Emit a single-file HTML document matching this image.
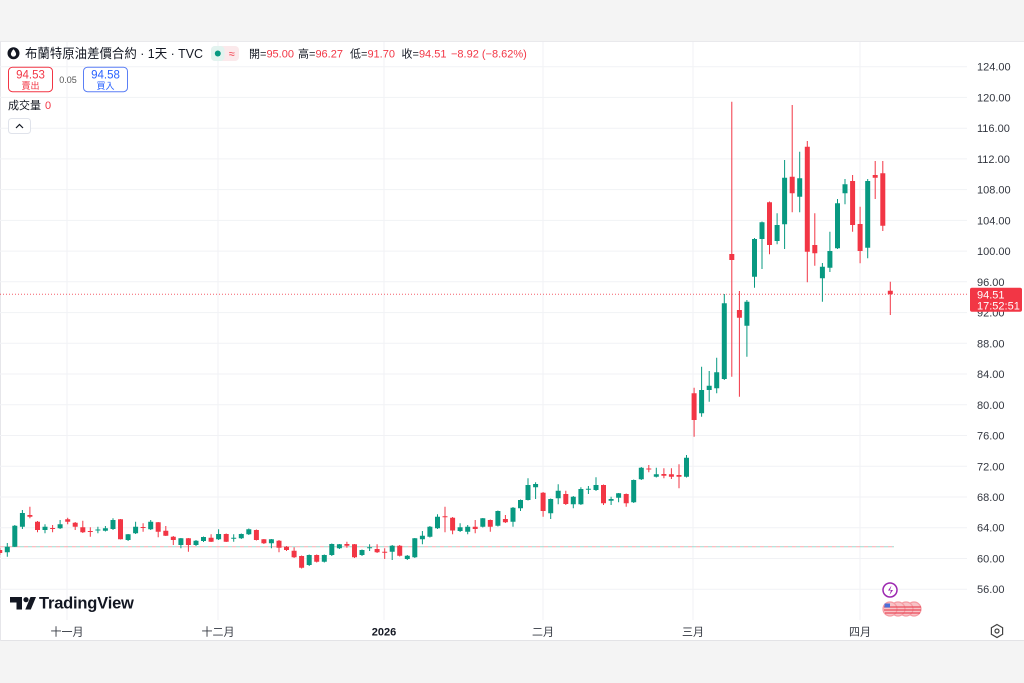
<!DOCTYPE html>
<html><head><meta charset="utf-8">
<style>
html,body{margin:0;padding:0;background:#f4f4f4;}
svg{display:block;}
text{font-family:"Liberation Sans","Noto Sans CJK TC",sans-serif;}
</style></head>
<body>
<svg width="1024" height="683" viewBox="0 0 1024 683" xmlns="http://www.w3.org/2000/svg">
<rect width="1024" height="683" fill="#f4f4f4"/>
<rect x="0" y="41" width="1024" height="600" fill="#ffffff"/>
<line x1="0" y1="41.5" x2="1024" y2="41.5" stroke="#e9e9ec"/>
<line x1="0" y1="640.5" x2="1024" y2="640.5" stroke="#e3e3e6"/>
<line x1="0.5" y1="41" x2="0.5" y2="641" stroke="#e6e6ea"/>

<!-- vertical grid -->
<g stroke="#f1f2f5" stroke-width="1">
<line x1="67" y1="42" x2="67" y2="620"/>
<line x1="218" y1="42" x2="218" y2="620"/>
<line x1="384" y1="42" x2="384" y2="620"/>
<line x1="543" y1="42" x2="543" y2="620"/>
<line x1="693" y1="42" x2="693" y2="620"/>
<line x1="860" y1="42" x2="860" y2="620"/>
</g>
<!-- horizontal grid -->
<g stroke="#f1f2f5" stroke-width="1">
<line x1="0" y1="66.7" x2="967" y2="66.7"/>
<line x1="0" y1="97.4" x2="967" y2="97.4"/>
<line x1="0" y1="128.2" x2="967" y2="128.2"/>
<line x1="0" y1="158.9" x2="967" y2="158.9"/>
<line x1="0" y1="189.6" x2="967" y2="189.6"/>
<line x1="0" y1="220.4" x2="967" y2="220.4"/>
<line x1="0" y1="251.1" x2="967" y2="251.1"/>
<line x1="0" y1="281.8" x2="967" y2="281.8"/>
<line x1="0" y1="312.6" x2="967" y2="312.6"/>
<line x1="0" y1="343.3" x2="967" y2="343.3"/>
<line x1="0" y1="374.0" x2="967" y2="374.0"/>
<line x1="0" y1="404.8" x2="967" y2="404.8"/>
<line x1="0" y1="435.5" x2="967" y2="435.5"/>
<line x1="0" y1="466.3" x2="967" y2="466.3"/>
<line x1="0" y1="497.0" x2="967" y2="497.0"/>
<line x1="0" y1="527.7" x2="967" y2="527.7"/>
<line x1="0" y1="558.5" x2="967" y2="558.5"/>
<line x1="0" y1="589.2" x2="967" y2="589.2"/>
</g>

<!-- reference dashed line -->
<line x1="0" y1="546.7" x2="894" y2="546.7" stroke="#f7a8ae" stroke-width="1" stroke-dasharray="4 4"/>
<line x1="4" y1="546.7" x2="894" y2="546.7" stroke="#9fd8cd" stroke-width="1" stroke-dasharray="4 4"/>

<!-- current price dotted line -->
<line x1="0" y1="294.3" x2="968" y2="294.3" stroke="#f23645" stroke-width="1" stroke-dasharray="1 2" opacity="0.8"/>

<!-- red wicks -->
<path fill="none" stroke="#f23645" stroke-width="1" d="M-0.25 548V555 M29.9 506.7V518.3 M37.5 521V532.3 M52.6 525V532.3 M67.7 517.7V524.3 M75.2 522V530 M82.8 520.7V533 M90.3 527.3V536.7 M120.5 519V539.5 M143.1 523.3V531.7 M158.2 522V537.3 M165.8 526V536 M173.3 536V545 M188.4 538V551.7 M211.1 534.3V542 M226.2 533.5V542 M256.4 529.5V540.5 M263.9 539V544 M279 540V552.3 M286.5 546V551 M294.1 547.3V558 M301.6 555.5V568.5 M316.7 554.5V562.5 M346.9 541.7V547.7 M354.5 544V558 M377.1 544.3V553 M384.7 548.3V559 M399.7 545V556.5 M445 506.7V532.3 M452.6 517V534.3 M475.2 520V533.3 M490.3 519.5V531.7 M505.4 515V523 M543.1 492V516.7 M565.8 490.7V505 M603.5 484.5V505 M626.2 493.5V506.7 M648.8 465V472.3 M663.9 468.3V478.3 M671.4 468.3V479 M679 464.3V488.3 M694.1 387.7V436.7 M731.8 101.7V376.7 M739.4 291V396.7 M769.5 201.5V254.3 M792.2 105V212.3 M807.3 141V282.3 M814.8 213.3V265.7 M852.6 175V231.7 M860.1 206.7V263.3 M875.2 161V199 M882.8 161V231 M890.3 281.7V315"/>
<!-- red bodies -->
<path fill="#f23645" d="M-2.75 550h5v3h-5z M27.4 515h5v1.7h-5z M35 521.7h5v8.3h-5z M50.1 528h5v1h-5z M65.2 519.3h5v2.4h-5z M72.7 522.7h5v4h-5z M80.3 527.3h5v5h-5z M87.8 531h5v1h-5z M118 519.3h5v20h-5z M140.6 527h5v1h-5z M155.7 522.3h5v9.4h-5z M163.3 530.7h5v5h-5z M170.8 536.7h5v3.3h-5z M185.9 538.3h5v6.7h-5z M208.6 537.7h5v4h-5z M223.7 534h5v7.7h-5z M253.9 530h5v10h-5z M261.4 539.3h5v4h-5z M276.5 540.7h5v7h-5z M284 546.7h5v3.3h-5z M291.6 550.7h5v6.6h-5z M299.1 556h5v11.7h-5z M314.2 555h5v6.7h-5z M344.4 544h5v1.7h-5z M352 544.3h5v13h-5z M374.6 549h5v3.3h-5z M382.2 551.8h5v1h-5z M397.2 545.7h5v10h-5z M442.5 516.2h5v1h-5z M450.1 517.7h5v12.8h-5z M472.7 526.7h5v2.3h-5z M487.8 520h5v6.7h-5z M502.9 519h5v3.3h-5z M540.6 492.7h5v18.3h-5z M563.3 494h5v10h-5z M601 485h5v18.3h-5z M623.7 494h5v9.3h-5z M646.3 468.5h5v1h-5z M661.4 474h5v1.7h-5z M668.9 474.3h5v2.4h-5z M676.5 475h5v1.7h-5z M691.6 393.3h5v26.7h-5z M729.3 254h5v6h-5z M736.9 310h5v7.7h-5z M767 202.3h5v42.7h-5z M789.7 176.7h5v16.6h-5z M804.8 146.7h5v105h-5z M812.3 245h5v8.3h-5z M850.1 181h5v44h-5z M857.6 224h5v27h-5z M872.7 175h5v2.7h-5z M880.3 173.3h5v52.4h-5z M887.8 290.7h5v3.6h-5z"/>

<!-- green wicks -->
<path fill="none" stroke="#089981" stroke-width="1" d="M7.3 543V556.7 M14.8 525V547 M22.4 510V529 M45 524.3V533.3 M60.1 520V529 M97.9 526.7V533.3 M105.4 526V531.5 M113 518.3V530 M128.1 534V541 M135.6 521.7V534 M150.7 520V530 M180.9 538V548.3 M196 540V546 M203.5 536.5V542 M218.6 529.3V540 M233.7 534.3V541.7 M241.3 533.5V539 M248.8 528.5V535 M271.4 539V548.3 M309.2 554.5V566 M324.3 554.5V562.5 M331.8 543.5V556 M339.4 544V549 M362 549.5V556 M369.6 544.3V551 M392.2 545V560 M407.3 555V560 M414.8 538V558 M422.4 531V544.3 M429.9 526V537.5 M437.5 514.3V529 M460.1 523.3V532 M467.7 525V534.3 M482.8 518V527.5 M497.9 510.5V526.5 M513 507V526.7 M520.5 499.5V511 M528 478.3V500.5 M535.6 482.3V499 M550.7 498.5V519 M558.2 484.3V504.3 M573.3 496V508.3 M580.9 487.3V505 M588.4 486V494 M596 477.3V491 M611.1 496.7V505 M618.6 493V502.3 M633.7 479.5V503 M641.3 467V480 M656.3 467.7V477.5 M686.5 455V477.5 M701.6 366.7V416.7 M709.2 371V401.7 M716.7 357.7V393.3 M724.3 294V380 M746.9 300V356.7 M754.5 238V287.7 M762 221.5V269 M777.1 213.3V244.3 M784.6 160V249 M799.7 151.7V212.3 M822.4 263V301.7 M829.9 231.7V272 M837.5 199V249 M845 179V204.3 M867.7 179V258.3"/>
<!-- green bodies -->
<path fill="#089981" d="M4.8 546.7h5v5.6h-5z M12.3 525.7h5v21h-5z M19.9 513h5v13.7h-5z M42.5 526.7h5v3.3h-5z M57.6 524.3h5v4h-5z M95.4 529.5h5v1h-5z M102.9 528.3h5v2.4h-5z M110.5 520h5v9h-5z M125.6 534.3h5v5.7h-5z M133.1 526.7h5v6.6h-5z M148.2 521.7h5v7.6h-5z M178.4 538.3h5v6.7h-5z M193.5 540.7h5v4.3h-5z M201 537h5v4h-5z M216.1 534h5v5.3h-5z M231.2 537.8h5v1h-5z M238.8 534h5v4.3h-5z M246.3 529.3h5v5h-5z M268.9 539.3h5v4h-5z M306.7 555h5v10h-5z M321.8 555h5v6.7h-5z M329.3 544h5v11h-5z M336.9 544.3h5v4h-5z M359.5 550h5v5h-5z M367.1 547.2h5v1h-5z M389.7 545.7h5v6h-5z M404.8 555.7h5v3.3h-5z M412.3 538.3h5v19h-5z M419.9 535.7h5v3.6h-5z M427.4 526.7h5v10h-5z M435 516.7h5v11.6h-5z M457.6 527.3h5v3.7h-5z M465.2 526.7h5v5h-5z M480.3 518.3h5v8.4h-5z M495.4 511h5v14.7h-5z M510.5 507.7h5v14h-5z M518 500h5v8.3h-5z M525.5 485h5v15h-5z M533.1 484h5v3.3h-5z M548.2 499h5v14.3h-5z M555.7 490.7h5v7.6h-5z M570.8 496.7h5v7.6h-5z M578.4 489h5v15.3h-5z M585.9 488.8h5v1h-5z M593.5 485h5v5h-5z M608.6 499h5v1.7h-5z M616.1 493.3h5v4.4h-5z M631.2 480h5v22.3h-5z M638.8 467.7h5v11.6h-5z M653.8 474.3h5v2.4h-5z M684 457.7h5v19h-5z M699.1 390h5v23.3h-5z M706.7 385.7h5v4.3h-5z M714.2 372.3h5v16h-5z M721.8 303.3h5v75.7h-5z M744.4 301.7h5v24h-5z M752 239h5v37.7h-5z M759.5 222.3h5v16.7h-5z M774.6 225h5v16h-5z M782.1 177.7h5v46.6h-5z M797.2 178.3h5v18.4h-5z M819.9 266.7h5v11.6h-5z M827.4 251h5v16.7h-5z M835 203.3h5v45h-5z M842.5 184.3h5v9h-5z M865.2 181h5v66.7h-5z"/>

<!-- price axis labels -->
<g font-size="11" fill="#333740">
<text x="977" y="70.7">124.00</text>
<text x="977" y="101.4">120.00</text>
<text x="977" y="132.2">116.00</text>
<text x="977" y="162.9">112.00</text>
<text x="977" y="193.6">108.00</text>
<text x="977" y="224.4">104.00</text>
<text x="977" y="255.1">100.00</text>
<text x="977" y="285.8">96.00</text>
<text x="977" y="316.6">92.00</text>
<text x="977" y="347.3">88.00</text>
<text x="977" y="378.0">84.00</text>
<text x="977" y="408.8">80.00</text>
<text x="977" y="439.5">76.00</text>
<text x="977" y="470.3">72.00</text>
<text x="977" y="501.0">68.00</text>
<text x="977" y="531.7">64.00</text>
<text x="977" y="562.5">60.00</text>
<text x="977" y="593.2">56.00</text>
</g>
<!-- current price label -->
<rect x="970" y="287.7" width="52" height="24" rx="2" fill="#f23645"/>
<text x="977" y="298.3" font-size="11" fill="#ffffff">94.51</text>
<text x="977" y="309.3" font-size="11" fill="#ffffff">17:52:51</text>

<!-- time axis labels -->
<g font-size="11" fill="#333740" text-anchor="middle">
<text x="67" y="635.5">十一月</text>
<text x="218" y="635.5">十二月</text>
<text x="384" y="635.5" font-weight="bold" fill="#131722">2026</text>
<text x="543" y="635.5">二月</text>
<text x="693" y="635.5">三月</text>
<text x="860" y="635.5">四月</text>
</g>
<!-- settings icon -->
<path d="M997 624.5l5.6 3.25v6.5l-5.6 3.25l-5.6-3.25v-6.5z" fill="none" stroke="#444" stroke-width="1.2"/>
<circle cx="997" cy="631" r="2" fill="none" stroke="#444" stroke-width="1.2"/>

<!-- TradingView watermark -->
<g fill="#131722">
<path d="M10 597h12v12.5h-5.5v-7h-6.5z"/>
<circle cx="26" cy="599.7" r="2.6"/>
<path d="M30.5 597h5.5l-5.2 12.5h-5.5z"/>
<text x="39" y="608.5" font-size="16.5" font-weight="bold" letter-spacing="-0.2">TradingView</text>
</g>

<!-- event icons -->
<circle cx="890" cy="590" r="7" fill="#fff" stroke="#9c27b0" stroke-width="1.5"/>
<path d="M891.5 585.5l-3.5 5h3l-1.5 4.5l3.5-5h-3z" fill="#9c27b0"/>
<g stroke="#f59aa2" stroke-width="1.2">
<circle cx="914" cy="609" r="7" fill="#f7c3c7"/>
<circle cx="906" cy="609" r="7" fill="#f7c3c7"/>
<circle cx="898" cy="609" r="7" fill="#f7c3c7"/>
<circle cx="890" cy="609" r="7" fill="#f7c3c7"/>
</g>
<g stroke="#ea4d5b" stroke-width="1.3">
<line x1="884" y1="607" x2="921" y2="607"/>
<line x1="884" y1="610" x2="921" y2="610"/>
<line x1="885" y1="613" x2="920" y2="613"/>
</g>
<rect x="884.5" y="603.5" width="5.5" height="4" fill="#4a6fd8"/>

<!-- header -->
<circle cx="13.5" cy="53.3" r="6" fill="#131722"/>
<path d="M13.5 49c-1.6 2.2-2.6 3.7-2.6 5a2.6 2.6 0 0 0 5.2 0c0-1.3-1-2.8-2.6-5z" fill="#fff"/>
<text x="25" y="58" font-size="13.2" fill="#131722" textLength="178" lengthAdjust="spacingAndGlyphs">布蘭特原油差價合約 · 1天 · TVC</text>
<rect x="211" y="46" width="28" height="15" rx="4" fill="#fbe9eb"/>
<rect x="211" y="46" width="13.5" height="15" rx="4" fill="#e2f3ef"/>
<circle cx="217.8" cy="53.5" r="3" fill="#089981"/>
<text x="231.7" y="57.5" font-size="11" fill="#f23645" text-anchor="middle">≈</text>
<g font-size="11">
<text x="249" y="57.3"><tspan fill="#131722">開=</tspan><tspan fill="#f23645">95.00</tspan></text>
<text x="298" y="57.3"><tspan fill="#131722">高=</tspan><tspan fill="#f23645">96.27</tspan></text>
<text x="350" y="57.3"><tspan fill="#131722">低=</tspan><tspan fill="#f23645">91.70</tspan></text>
<text x="401.5" y="57.3"><tspan fill="#131722">收=</tspan><tspan fill="#f23645">94.51</tspan></text>
<text x="451" y="57.3" fill="#f23645">−8.92 (−8.62%)</text>
</g>

<rect x="8.5" y="67.2" width="44" height="24.5" rx="4" fill="#fff" stroke="#f23645"/>
<text x="30.5" y="78.5" font-size="11.5" fill="#f23645" text-anchor="middle">94.53</text>
<text x="30.5" y="89" font-size="9" fill="#f23645" text-anchor="middle">賣出</text>
<text x="68" y="83" font-size="9" fill="#555" text-anchor="middle">0.05</text>
<rect x="83.5" y="67.2" width="44" height="24.5" rx="4" fill="#fff" stroke="#5b7ff5"/>
<text x="105.5" y="78.5" font-size="11.5" fill="#2962ff" text-anchor="middle">94.58</text>
<text x="105.5" y="89" font-size="9" fill="#2962ff" text-anchor="middle">買入</text>

<text x="8" y="109" font-size="11" fill="#131722">成交量</text>
<text x="45" y="109" font-size="11" fill="#f23645">0</text>
<rect x="8.5" y="118.5" width="22" height="15" rx="3" fill="#fff" stroke="#e0e3eb"/>
<path d="M16 128l3.5-3.5l3.5 3.5" fill="none" stroke="#131722" stroke-width="1.2"/>
</svg>
</body></html>
